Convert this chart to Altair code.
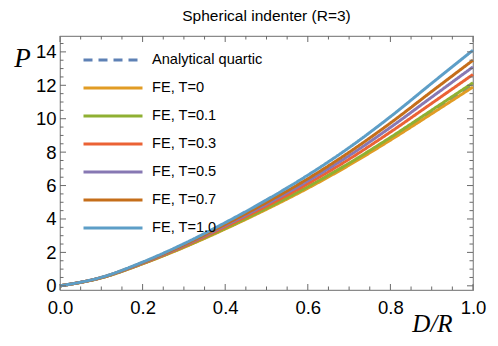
import altair as alt
import pandas as pd

# ---------------- data ----------------
x_vals = [0.0, 0.1, 0.2, 0.3, 0.4, 0.5, 0.6, 0.7, 0.8, 0.9, 1.0]

p_analytical = [0.0, 0.48, 1.33, 2.32, 3.43, 4.62, 5.89, 7.29, 8.81, 10.41, 12.03]
p_t00 = [0.0, 0.48, 1.32, 2.30, 3.40, 4.58, 5.84, 7.22, 8.72, 10.30, 11.90]
p_t01 = [0.0, 0.48, 1.33, 2.33, 3.44, 4.64, 5.93, 7.34, 8.88, 10.51, 12.15]
p_t03 = [0.0, 0.49, 1.35, 2.37, 3.53, 4.77, 6.11, 7.58, 9.20, 10.92, 12.65]
p_t05 = [0.0, 0.50, 1.37, 2.42, 3.61, 4.89, 6.27, 7.79, 9.48, 11.29, 13.10]
p_t07 = [0.0, 0.50, 1.39, 2.46, 3.68, 4.99, 6.41, 7.99, 9.74, 11.63, 13.50]
p_t10 = [0.0, 0.51, 1.42, 2.52, 3.78, 5.14, 6.62, 8.27, 10.12, 12.12, 14.10]

series_names = ["Analytical quartic", "FE, T=0", "FE, T=0.1", "FE, T=0.3",
                "FE, T=0.5", "FE, T=0.7", "FE, T=1.0"]
series_values = [p_analytical, p_t00, p_t01, p_t03, p_t05, p_t07, p_t10]
series_colors = ["#5E81B5", "#E19C24", "#8FB032", "#EB6235",
                 "#8778B3", "#C56E1A", "#5D9EC7"]
series_dash = [[9, 6], [1, 0], [1, 0], [1, 0], [1, 0], [1, 0], [1, 0]]

x_major = [0.0, 0.2, 0.4, 0.6, 0.8, 1.0]
x_minor = [0.05, 0.1, 0.15, 0.25, 0.3, 0.35, 0.45, 0.5, 0.55,
           0.65, 0.7, 0.75, 0.85, 0.9, 0.95]
y_major = [0, 2, 4, 6, 8, 10, 12, 14]
y_minor = [v / 2 for v in range(0, 30) if v % 4 != 0]

title_text = "Spherical indenter (R=3)"

rows = []
for name, vals in zip(series_names, series_values):
    for xv, pv in zip(x_vals, vals):
        rows.append({"x": xv, "P": pv, "series": name})
df = pd.DataFrame(rows)

W, H = 413, 254
FRAME = "#8a8a8a"
TICK = "#6a6a6a"

xscale = alt.Scale(domain=[0, 1], nice=False, zero=False)
yscale = alt.Scale(domain=[-0.25, 14.95], nice=False, zero=False)

x_axis = alt.Axis(
    values=x_major, format=".1f", ticks=False, domain=False, grid=False,
    labelFont="Liberation Sans", labelFontSize=18.5, labelColor="black",
    labelPadding=8, labelFlush=False,
    title="D/R", titleFont="Liberation Serif", titleFontStyle="italic",
    titleFontWeight="normal", titleFontSize=25, titleColor="black",
    titleAngle=0, titleAlign="center", titleBaseline="middle",
    titleX=372, titleY=33)
y_axis = alt.Axis(
    values=y_major, format="d", ticks=False, domain=False, grid=False,
    labelFont="Liberation Sans", labelFontSize=18.5, labelColor="black",
    labelPadding=4, labelFlush=False,
    title="P", titleFont="Liberation Serif", titleFontStyle="italic",
    titleFontWeight="normal", titleFontSize=27, titleColor="black",
    titleAngle=0, titleAlign="center", titleBaseline="middle",
    titleX=-38, titleY=22)

legend = alt.Legend(
    title=None, orient="none", legendX=22, legendY=10,
    symbolType="stroke", symbolSize=3481, symbolStrokeWidth=3,
    labelFont="Liberation Sans", labelFontSize=14.6, labelColor="black",
    clipHeight=28, rowPadding=0, labelOffset=8, padding=0,
)

lines = alt.Chart(df).mark_line(strokeWidth=3, interpolate="monotone").encode(
    x=alt.X("x:Q", scale=xscale, axis=x_axis, title="D/R"),
    y=alt.Y("P:Q", scale=yscale, axis=y_axis, title="P"),
    color=alt.Color("series:N", scale=alt.Scale(domain=series_names, range=series_colors),
                    sort=series_names, legend=legend),
    strokeDash=alt.StrokeDash("series:N", scale=alt.Scale(domain=series_names, range=series_dash),
                              sort=series_names, legend=legend),
    order=alt.Order("x:Q"),
)


def tick_layer(values, side, length):
    d = pd.DataFrame({"x": values, "P": values})
    base = alt.Chart(d).mark_rule(color=TICK, strokeWidth=1)
    if side == "bottom":
        return base.encode(x=alt.X("x:Q", scale=xscale, axis=x_axis, title="D/R"),
                           y=alt.value(H), y2=alt.value(H - length))
    if side == "top":
        return base.encode(x=alt.X("x:Q", scale=xscale, axis=x_axis, title="D/R"),
                           y=alt.value(0), y2=alt.value(length))
    if side == "left":
        return base.encode(y=alt.Y("P:Q", scale=yscale, axis=y_axis, title="P"),
                           x=alt.value(0), x2=alt.value(length))
    return base.encode(y=alt.Y("P:Q", scale=yscale, axis=y_axis, title="P"),
                       x=alt.value(W), x2=alt.value(W - length))


ticks = [
    tick_layer(x_major, "bottom", 6), tick_layer(x_minor, "bottom", 3.5),
    tick_layer(x_major, "top", 6), tick_layer(x_minor, "top", 3.5),
    tick_layer(y_major, "left", 6), tick_layer(y_minor, "left", 3.5),
    tick_layer(y_major, "right", 6), tick_layer(y_minor, "right", 3.5),
]

chart = alt.layer(lines, *ticks).properties(
    width=W, height=H,
    title=alt.Title(title_text, font="Liberation Sans", fontSize=15.5,
                    fontWeight="normal", color="black", offset=11),
    padding={"left": 52, "top": 28, "right": 17, "bottom": 48},
    autosize=alt.AutoSizeParams(type="none"),
).configure_view(stroke=FRAME, strokeWidth=1.2)

chart.save("out.html", embed_options={"renderer": "svg", "actions": False})
